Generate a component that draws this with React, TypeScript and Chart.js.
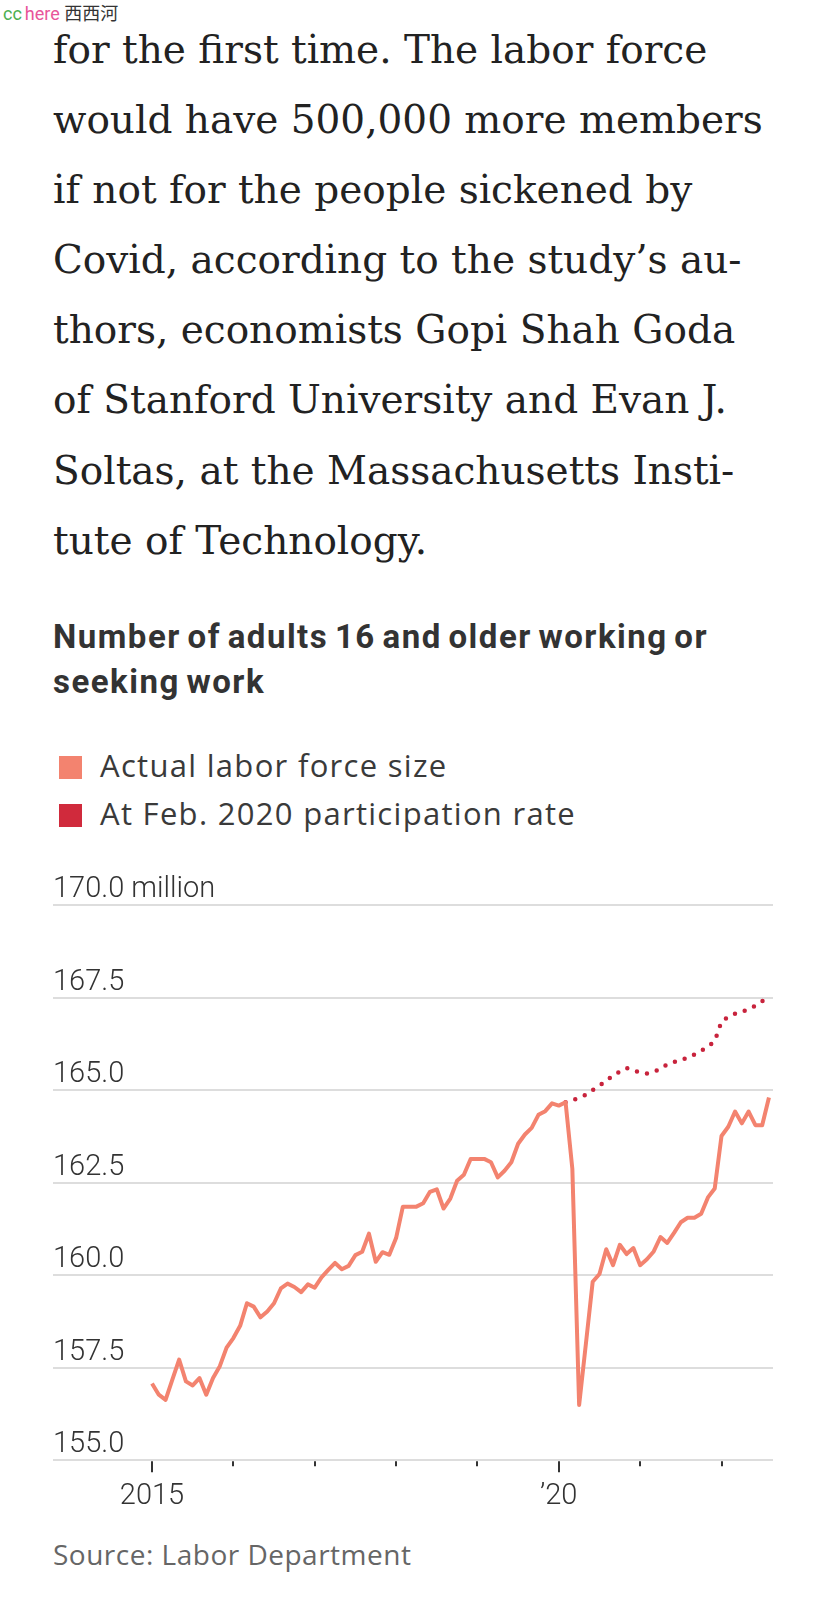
import React, { useEffect, useRef } from "react";
import { Chart, registerables } from "chart.js";

Chart.register(...registerables);

// ---------- data ----------
const START_YEAR = 2015;
// Actual labor force size, monthly from Jan 2015 to Aug 2022 (millions)
const actualLaborForce = [
  157.07, 156.77, 156.63, 157.18, 157.72, 157.13, 157.02, 157.22, 156.77, 157.22, 157.54, 158.04,
  158.30, 158.63, 159.24, 159.15, 158.86, 159.02, 159.24, 159.64, 159.77, 159.68, 159.54, 159.75,
  159.66, 159.94, 160.14, 160.33, 160.16, 160.25, 160.54, 160.63, 161.12, 160.36, 160.62, 160.55,
  161.00, 161.85, 161.85, 161.85, 161.94, 162.25, 162.32, 161.80, 162.07, 162.55, 162.71, 163.14,
  163.14, 163.14, 163.05, 162.64, 162.82, 163.05, 163.55, 163.80, 163.98, 164.33, 164.43, 164.64,
  164.58, 164.67, 162.87, 156.49, 158.15, 159.82, 160.03, 160.70, 160.27, 160.82, 160.57, 160.73,
  160.27, 160.43, 160.64, 161.03, 160.87, 161.14, 161.43, 161.55, 161.55, 161.66, 162.10, 162.34,
  163.76, 164.01, 164.42, 164.10, 164.42, 164.05, 164.05, 164.80,
];
// At Feb. 2020 participation rate, monthly from Feb 2020 to Aug 2022 (millions)
const COUNTERFACTUAL_START = "2020-02";
const atFeb2020Rate = [
  164.67, 164.72, 164.80, 164.87, 165.00, 165.12, 165.25, 165.40, 165.50, 165.60, 165.53,
  165.48, 165.45, 165.50, 165.57, 165.70, 165.76, 165.80, 165.88, 165.96, 166.06, 166.18, 166.32,
  166.85, 166.98, 167.06, 167.12, 167.18, 167.28, 167.40, 167.55,
];
const yTickValues = [155, 157.5, 160, 162.5, 165, 167.5, 170];
const yearTicks = [2015, 2016, 2017, 2018, 2019, 2020, 2021, 2022];
const yearLabels: Record<number, string> = { 2015: "2015", 2020: "\u201920" };

const X_MIN = 2013.783;
const X_MAX = 2022.633;

const COLOR_ACTUAL = "#f3836f";
const COLOR_RATE = "#c8233c";

const paragraphLines = [
  "for the first time. The labor force",
  "would have 500,000 more members",
  "if not for the people sickened by",
  "Covid, according to the study\u2019s au-",
  "thors, economists Gopi Shah Goda",
  "of Stanford University and Evan J.",
  "Soltas, at the Massachusetts Insti-",
  "tute of Technology.",
];

const monthToX = (ym: string) => {
  const [y, m] = ym.split("-").map(Number);
  return y + (m - 1) / 12;
};
const actualMonths = actualLaborForce.map(
  (_, i) => `${START_YEAR + Math.floor(i / 12)}-${String((i % 12) + 1).padStart(2, "0")}`
);
const cfStartX = monthToX(COUNTERFACTUAL_START);

const tickMarksPlugin = {
  id: "tickMarks",
  afterDraw(chart: any) {
    const xs = chart.scales.x;
    const ctx = chart.ctx;
    const top = chart.chartArea.bottom + 1;
    ctx.save();
    ctx.strokeStyle = "#333";
    ctx.lineWidth = 2;
    xs.ticks.forEach((t: any) => {
      const px = Math.round(xs.getPixelForValue(t.value));
      const len = yearLabels[t.value] ? 11 : 5;
      ctx.beginPath();
      ctx.moveTo(px, top);
      ctx.lineTo(px, top + len);
      ctx.stroke();
    });
    ctx.restore();
  },
};

const LABEL_FONT = { family: "Roboto", size: 29, weight: 300 as any };

function LaborChart() {
  const ref = useRef<HTMLCanvasElement | null>(null);
  useEffect(() => {
    if (!ref.current) return;
    const chart = new Chart(ref.current, {
      type: "line",
      data: {
        datasets: [
          {
            label: "Actual labor force size",
            data: actualLaborForce.map((v, i) => ({ x: monthToX(actualMonths[i]), y: v })),
            borderColor: COLOR_ACTUAL,
            borderWidth: 4,
            pointRadius: 0,
            tension: 0,
            borderJoinStyle: "round",
          },
          {
            label: "At Feb. 2020 participation rate",
            data: atFeb2020Rate.map((v, k) => ({ x: cfStartX + k / 12, y: v })),
            borderColor: COLOR_RATE,
            borderWidth: 4.5,
            borderDash: [0, 10.2],
            borderCapStyle: "round",
            pointRadius: 0,
            tension: 0,
          },
        ],
      },
      options: {
        animation: false,
        responsive: false,
        devicePixelRatio: 1,
        layout: { padding: { top: 40, left: 0, right: 0, bottom: 0 } },
        plugins: { legend: { display: false }, tooltip: { enabled: false } },
        scales: {
          x: {
            type: "linear",
            min: X_MIN,
            max: X_MAX,
            afterBuildTicks: (s: any) => {
              s.ticks = yearTicks.map((v) => ({ value: v }));
            },
            border: { display: false },
            grid: {
              drawOnChartArea: false,
              drawTicks: true,
              tickLength: 12,
              tickColor: "rgba(0,0,0,0)",
            },
            ticks: {
              autoSkip: false,
              maxRotation: 0,
              padding: 7,
              color: "#333",
              font: LABEL_FONT,
              callback: (v: any) => yearLabels[v] || "",
            },
          },
          y: {
            type: "linear",
            min: 155,
            max: 170,
            afterBuildTicks: (s: any) => {
              s.ticks = yTickValues.map((v) => ({ value: v }));
            },
            border: { display: false },
            grid: { color: "#dddddd", lineWidth: 2, drawTicks: false },
            ticks: {
              mirror: true,
              padding: 0,
              labelOffset: -15,
              color: "#333",
              font: LABEL_FONT,
              callback: (v: any) => (v === 170 ? "170.0 million" : Number(v).toFixed(1)),
            },
          },
        },
      },
      plugins: [tickMarksPlugin],
    } as any);
    return () => chart.destroy();
  }, []);
  return (
    <canvas
      ref={ref}
      width={720}
      height={656}
      style={{ position: "absolute", left: 53, top: 865, width: 720, height: 656 }}
    />
  );
}

export default function App() {
  return (
    <div
      style={{
        position: "absolute",
        left: 0,
        top: 0,
        width: 826,
        height: 1600,
        background: "#fff",
        overflow: "hidden",
      }}
    >
      <div
        style={{
          position: "absolute",
          left: 3,
          top: 2,
          fontSize: 18,
          lineHeight: "20px",
          fontFamily: "Roboto, 'Noto Sans CJK SC'",
          whiteSpace: "nowrap",
        }}
      >
        <span style={{ color: "#4caf50" }}>cc</span>
        <span style={{ color: "#e8559a", marginLeft: 3 }}>here</span>{" "}
        <span style={{ color: "#333", fontFamily: "'Noto Sans CJK SC'" }}>西西河</span>
      </div>

      <div
        style={{
          position: "absolute",
          left: 53,
          top: 15,
          fontFamily: "'DejaVu Serif'",
          fontSize: 39,
          lineHeight: "70.1px",
          color: "#222",
          whiteSpace: "nowrap",
        }}
      >
        {paragraphLines.map((l, i) => (
          <div key={i}>{l}</div>
        ))}
      </div>

      <div
        style={{
          position: "absolute",
          left: 53,
          top: 614,
          fontFamily: "Roboto",
          fontWeight: 700,
          fontSize: 33,
          lineHeight: "45px",
          color: "#333",
          letterSpacing: 1.5,
          wordSpacing: -3,
          whiteSpace: "nowrap",
        }}
      >
        <div>Number of adults 16 and older working or</div>
        <div>seeking work</div>
      </div>

      {[
        { label: "Actual labor force size", color: COLOR_ACTUAL, top: 756 },
        { label: "At Feb. 2020 participation rate", color: "#d02a3c", top: 804 },
      ].map((it) => (
        <div key={it.label}>
          <div
            style={{
              position: "absolute",
              left: 59,
              top: it.top,
              width: 23,
              height: 23,
              background: it.color,
            }}
          />
          <div
            style={{
              position: "absolute",
              left: 100,
              top: it.top - 13,
              fontFamily: "'Open Sans'",
              fontWeight: 400,
              fontSize: 31,
              lineHeight: "44px",
              color: "#3a3a3a",
              letterSpacing: 1.3,
              whiteSpace: "nowrap",
            }}
          >
            {it.label}
          </div>
        </div>
      ))}

      <LaborChart />

      <div
        style={{
          position: "absolute",
          left: 53,
          top: 1534,
          fontFamily: "'Open Sans'",
          fontWeight: 400,
          fontSize: 28,
          lineHeight: "40px",
          color: "#666",
          letterSpacing: 0.5,
          whiteSpace: "nowrap",
        }}
      >
        Source: Labor Department
      </div>
    </div>
  );
}
